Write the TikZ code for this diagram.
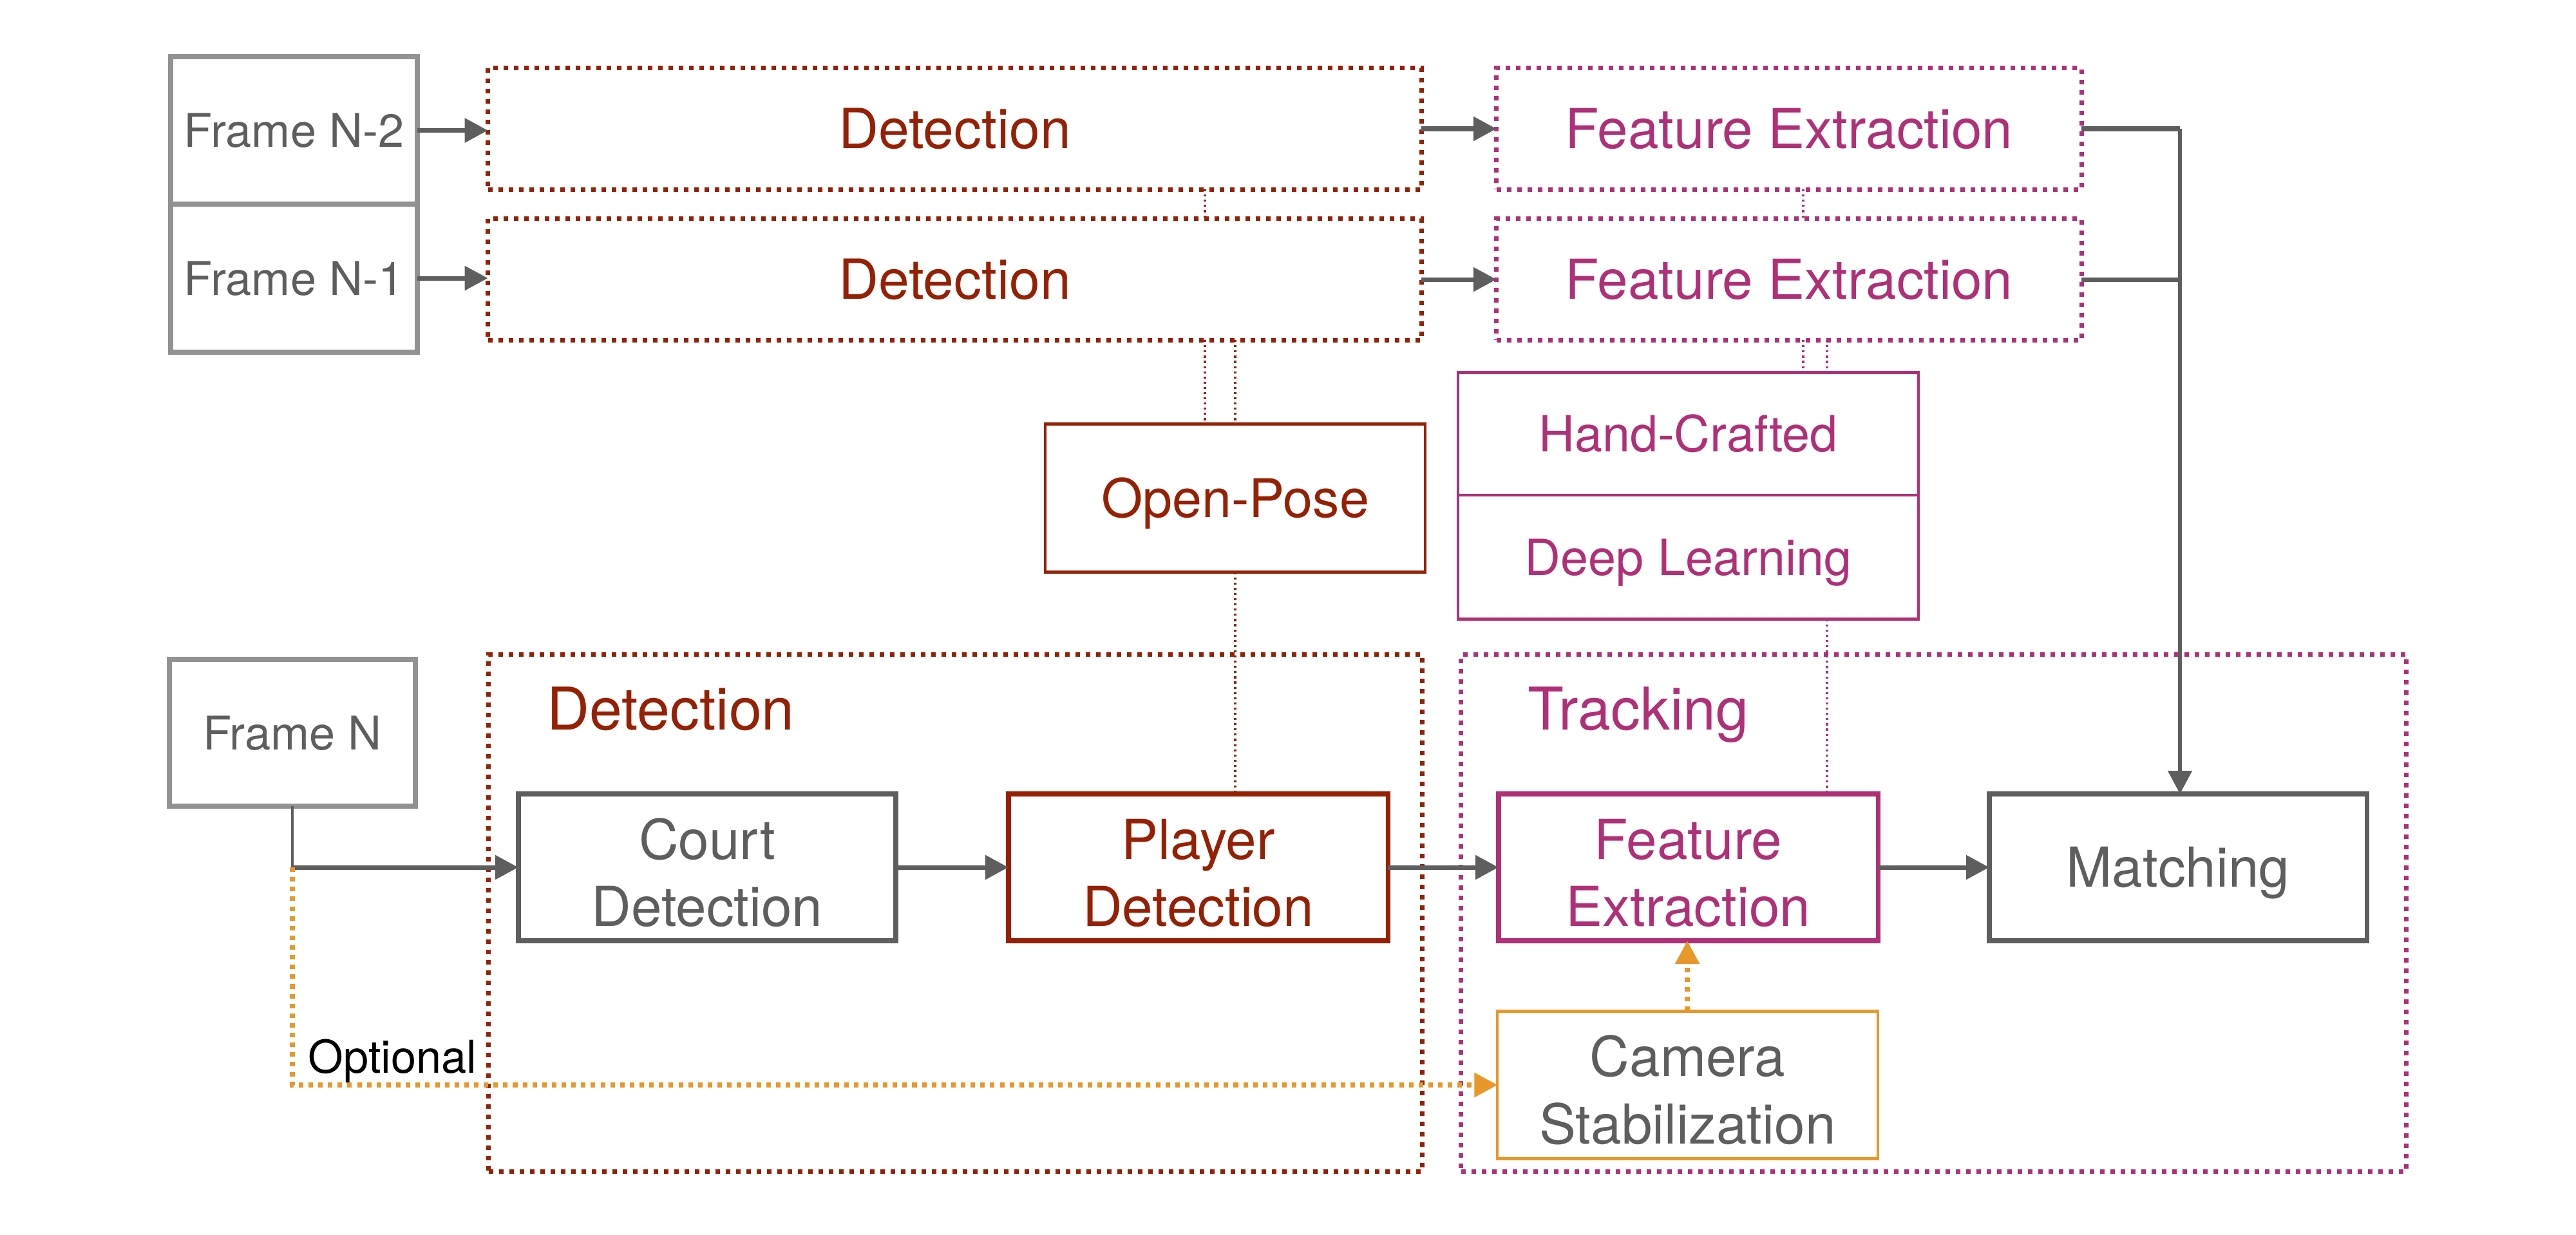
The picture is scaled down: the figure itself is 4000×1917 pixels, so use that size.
\documentclass[tikz,border=0pt]{standalone}
\usepackage{fontspec}
\setmainfont{TeX Gyre Heros}
\usetikzlibrary{arrows.meta}
\definecolor{dred}{RGB}{150,32,4}
\definecolor{mag}{RGB}{176,48,120}
\definecolor{orng}{RGB}{232,152,42}
\definecolor{dgray}{RGB}{94,94,94}
\definecolor{fgray}{RGB}{146,146,146}
\newcommand{\lowstrut}{\rule{0pt}{22.6pt}}
\tikzset{
  box/.style={rectangle, inner sep=0pt, outer sep=0pt, align=center},
  framebox/.style={box, draw=fgray, line width=2.2pt, text=dgray,
    font=\fontsize{20.5pt}{25pt}\selectfont, text height=14.8pt, text depth=0pt},
  redcont/.style={box, draw=dred, line width=2pt, dash pattern=on 2pt off 2.55pt,
    text=dred, font=\fontsize{24.4pt}{29pt}\selectfont, text height=17.5pt, text depth=0pt},
  magcont/.style={box, draw=mag, line width=2pt, dash pattern=on 2pt off 2.55pt,
    text=mag, font=\fontsize{24.3pt}{29pt}\selectfont, text height=17.5pt, text depth=0pt},
  redthin/.style={box, draw=dred, line width=1.2pt, text=dred,
    font=\fontsize{23.5pt}{28pt}\selectfont, text height=16.9pt, text depth=0pt},
  magthin/.style={box, draw=mag, line width=1.2pt, text=mag,
    font=\fontsize{22pt}{27pt}\selectfont, text height=15.8pt, text depth=0pt},
  twoline/.style={box, line width=2.1pt, font=\fontsize{24.3pt}{29.6pt}\selectfont},
  graybox/.style={twoline, draw=dgray, text=dgray},
  redbox/.style={twoline, draw=dred, text=dred},
  magbox/.style={twoline, draw=mag, text=mag},
  orbox/.style={twoline, draw=orng, line width=1.2pt, text=dgray},
  grouplabel/.style={anchor=base west, inner sep=0pt, font=\fontsize{26pt}{30pt}\selectfont},
  gline/.style={draw=dgray, line width=2pt},
  gthin/.style={draw=dgray, line width=1.3pt},
  garrow/.style={gline, -{Triangle[length=10.2pt,width=10.4pt]}},
  oarrow/.style={draw=orng, line width=2.1pt, dash pattern=on 2pt off 2.3pt,
    -{Triangle[length=10.2pt,width=10.4pt]}},
  rdot/.style={draw=dred, line width=0.9pt, dash pattern=on 0.9pt off 1.4pt},
  mdot/.style={draw=mag, line width=0.9pt, dash pattern=on 0.9pt off 1.4pt},
}
\begin{document}
\begin{tikzpicture}[x=0.01cm,y=-0.01cm]
\useasboundingbox[fill=white] (0,0) rectangle (4000,1917);

% containers
\node[redcont, minimum width=14.49cm, minimum height=8.02cm] (detbig) at (1483.5,1418) {};
\node[magcont, minimum width=14.67cm, minimum height=8.02cm] (trbig) at (3002.5,1418) {};

% top rows
\node[framebox, minimum width=3.83cm, minimum height=2.29cm] (fN2) at (456.5,202.5) {Frame N-2};
\node[framebox, minimum width=3.83cm, minimum height=2.30cm] (fN1) at (456.5,432) {Frame N-1};
\node[redcont, minimum width=14.49cm, minimum height=1.88cm] (det1) at (1482.5,200) {Detection};
\node[redcont, minimum width=14.49cm, minimum height=1.88cm] (det2) at (1482.5,434) {Detection};
\node[magcont, minimum width=9.08cm, minimum height=1.88cm] (fe1) at (2778,200) {Feature Extraction};
\node[magcont, minimum width=9.08cm, minimum height=1.88cm] (fe2) at (2778,434) {Feature Extraction};

\node[redthin, minimum width=5.89cm, minimum height=2.30cm] (op) at (1918,773.5) {Open-Pose};
\node[magthin, minimum width=7.14cm, minimum height=1.905cm] (hc) at (2621.5,673.75) {Hand-Crafted};
\node[magthin, minimum width=7.14cm, minimum height=1.925cm] (dl) at (2621.5,865.25) {Deep Learning};

% bottom row
\node[framebox, minimum width=3.82cm, minimum height=2.28cm] (fN) at (454,1138) {Frame N};
\node[grouplabel, text=dred] (detlabel) at (849,1133) {Detection};
\node[grouplabel, text=mag] (trlabel) at (2372,1133) {Tracking};
\node[graybox, minimum width=5.86cm, minimum height=2.28cm] (court) at (1098,1347) {\lowstrut Court\\Detection};
\node[redbox, minimum width=5.89cm, minimum height=2.28cm] (player) at (1860.5,1347) {\lowstrut Player\\Detection};
\node[magbox, minimum width=5.89cm, minimum height=2.28cm] (fe3) at (2621.5,1347) {\lowstrut Feature\\Extraction};
\node[graybox, minimum width=5.86cm, minimum height=2.28cm, text height=17.5pt, text depth=0pt] (match) at (3382,1347) {Matching};
\node[orbox, minimum width=5.90cm, minimum height=2.29cm] (cs) at (2620.5,1685) {\lowstrut Camera\\Stabilization};
\node[anchor=base west, inner sep=0pt, text=black, font=\fontsize{20pt}{24pt}\selectfont] (opt) at (478,1666) {Optional};

% helper coordinates
\coordinate (xa) at (1871,0);
\coordinate (xb) at (1918,0);
\coordinate (xc) at (2800,0);
\coordinate (xd) at (2837,0);
\coordinate (xo) at (2620,0);
\coordinate (bus) at (3385,200);
\coordinate (jn) at (454,1347);

% connectors
\draw[garrow] (fN2.east) -- (det1.west |- fN2.east);
\draw[garrow] (fN1.east) -- (det2.west |- fN1.east);
\draw[garrow] (det1.east) -- (fe1.west);
\draw[garrow] (det2.east) -- (fe2.west);
\draw[gline] (fe1.east) -- (bus);
\draw[gline] (fe2.east) -- (bus |- fe2.east);
\draw[garrow, line width=1.7pt] (bus) -- (bus |- match.north);

\draw[rdot] (det1.south -| xa) -- (det2.north -| xa);
\draw[rdot] (det2.south -| xa) -- (op.north -| xa);
\draw[rdot] (det2.south -| xb) -- (op.north -| xb);
\draw[rdot] (op.south -| xb) -- (player.north -| xb);
\draw[mdot] (fe1.south -| xc) -- (fe2.north -| xc);
\draw[mdot] (fe2.south -| xc) -- (hc.north -| xc);
\draw[mdot] (fe2.south -| xd) -- (hc.north -| xd);
\draw[mdot] (dl.south -| xd) -- (fe3.north -| xd);

\draw[gthin] (fN.south) -- (jn);
\draw[garrow] (jn) -- (court.west);
\draw[garrow] (court.east) -- (player.west);
\draw[garrow] (player.east) -- (fe3.west);
\draw[garrow] (fe3.east) -- (match.west);
\draw[oarrow] (jn) |- (cs.west);
\draw[oarrow] (cs.north -| xo) -- (fe3.south -| xo);
\end{tikzpicture}
\end{document}
